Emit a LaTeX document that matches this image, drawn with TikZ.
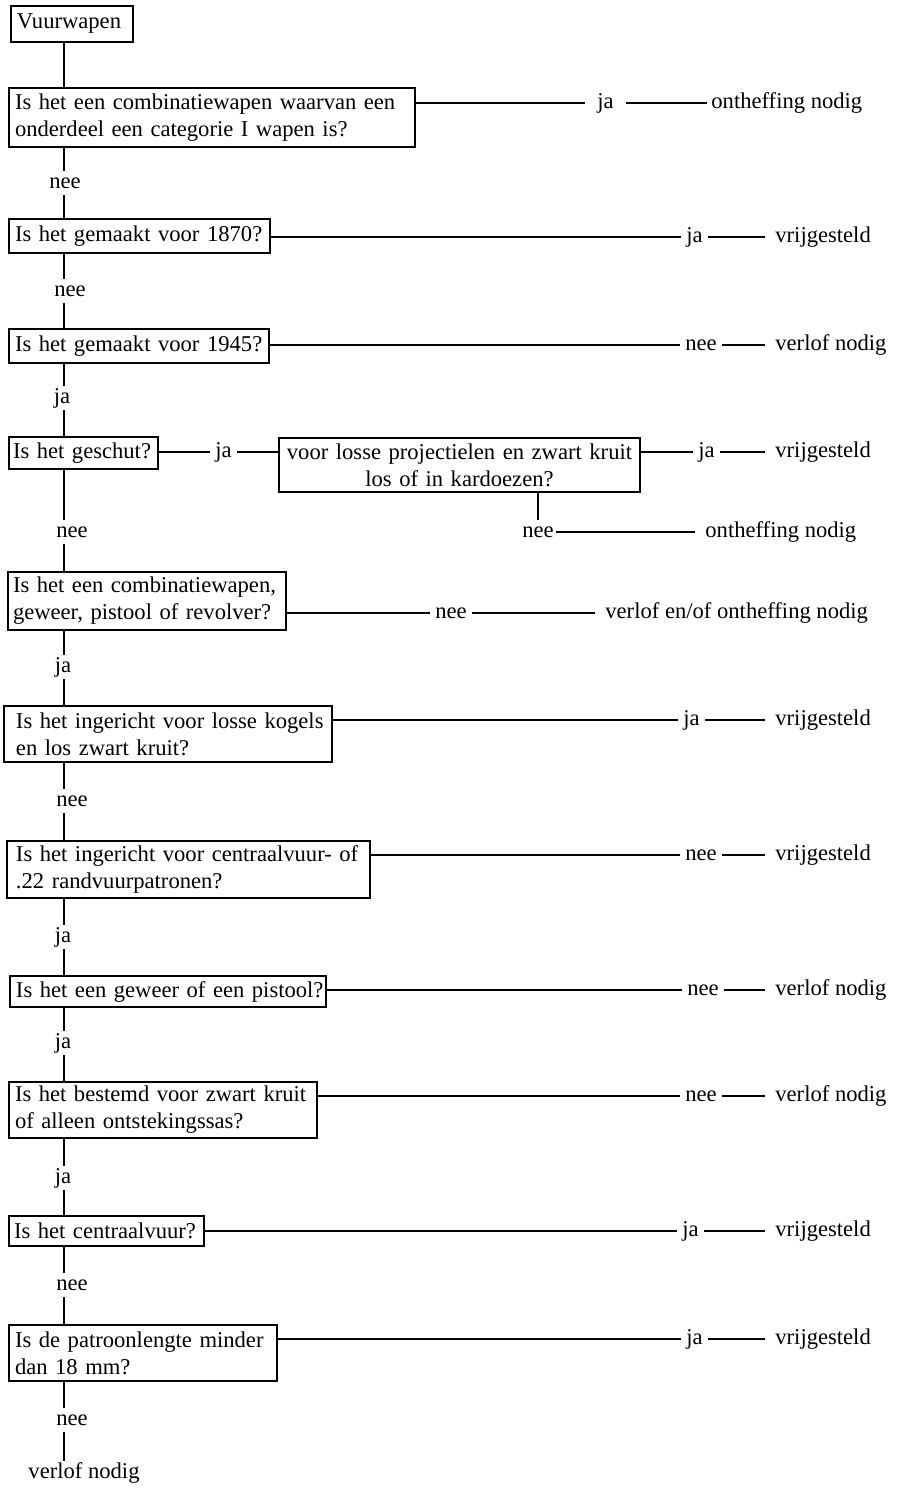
\documentclass[tikz,border=0pt]{standalone}
\usepackage{fontspec}
\setmainfont{Liberation Serif}
\begin{document}
\begin{tikzpicture}[x=0.5pt,y=-0.5pt,
  every node/.style={font=\fontsize{11.3}{13.5}\selectfont},
  line/.style={line width=1pt},
  box/.style={draw, line width=1pt, anchor=north west, align=left, inner xsep=3pt, inner ysep=0pt},
  mid/.style={anchor=west, inner xsep=2.5pt, inner ysep=0pt},
  fin/.style={anchor=west, inner xsep=5pt, inner ysep=0pt},
  vl/.style={inner sep=0pt, minimum height=12pt}]
\useasboundingbox (0,0) rectangle (902,1488);
\coordinate (s) at (64,0);

% question boxes
\node[box, text width=55pt, minimum height=18pt] (b1) at (10,5) {\mbox{Vuurwapen}};
\node[box, text width=197pt, minimum height=29.5pt] (b2) at (8,87) {\mbox{Is het een combinatiewapen waarvan een}\\\mbox{onderdeel een categorie I wapen is?}};
\node[box, text width=124.5pt, minimum height=17pt] (b3) at (8,218) {\mbox{Is het gemaakt voor 1870?}};
\node[box, text width=124pt, minimum height=17pt] (b4) at (8,328) {\mbox{Is het gemaakt voor 1945?}};
\node[box, inner xsep=2pt, text width=70.5pt, minimum height=16pt] (b5) at (8,436) {\mbox{Is het geschut?}};
\node[box, align=center, text width=174.5pt, minimum height=27pt] (b6) at (278,437) {\mbox{voor losse projectielen en zwart kruit}\\\mbox{los of in kardoezen?}};
\node[box, inner xsep=2.5pt, text width=134pt, minimum height=29pt] (b7) at (7,571) {\mbox{Is het een combinatiewapen,}\\\mbox{geweer, pistool of revolver?}};
\node[box, inner xsep=6pt, text width=152pt, minimum height=28pt] (b8) at (3,705) {\mbox{Is het ingericht voor losse kogels}\\\mbox{en los zwart kruit?}};
\node[box, inner xsep=4.5pt, text width=172.5pt, minimum height=28.5pt] (b9) at (6,840) {\mbox{Is het ingericht voor centraalvuur- of}\\\mbox{.22 randvuurpatronen?}};
\node[box, text width=152pt, minimum height=15.5pt] (b10) at (9,975) {\mbox{Is het een geweer of een pistool?}};
\node[box, text width=148pt, minimum height=28pt] (b11) at (8,1081) {\mbox{Is het bestemd voor zwart kruit}\\\mbox{of alleen ontstekingssas?}};
\node[box, inner xsep=2.5pt, text width=92.5pt, minimum height=15pt] (b12) at (8,1215) {\mbox{Is het centraalvuur?}};
\node[box, text width=128pt, minimum height=28pt] (b13) at (8,1324) {\mbox{Is de patroonlengte minder}\\\mbox{dan 18 mm?}};

% spine labels
\node[vl] (v1) at (65,183) {nee};
\node[vl] (v2) at (70,291) {nee};
\node[vl] (v3) at (62,398) {ja};
\node[vl] (v4) at (72,532) {nee};
\node[vl] (v5) at (63,667) {ja};
\node[vl] (v6) at (72,801) {nee};
\node[vl] (v7) at (63,937) {ja};
\node[vl] (v8) at (63,1043) {ja};
\node[vl] (v9) at (63,1178) {ja};
\node[vl] (v10) at (72,1285) {nee};
\node[vl] (v11) at (72,1420) {nee};
\node[vl] (end) at (84,1473) {verlof nodig};

% spine connectors
\draw[line] (b1.south -| s) -- (b2.north -| s);
\draw[line] (b2.south -| s) -- (v1.north -| s);
\draw[line] (v1.south -| s) -- (b3.north -| s);
\draw[line] (b3.south -| s) -- (v2.north -| s);
\draw[line] (v2.south -| s) -- (b4.north -| s);
\draw[line] (b4.south -| s) -- (v3.north -| s);
\draw[line] (v3.south -| s) -- (b5.north -| s);
\draw[line] (b5.south -| s) -- (v4.north -| s);
\draw[line] (v4.south -| s) -- (b7.north -| s);
\draw[line] (b7.south -| s) -- (v5.north -| s);
\draw[line] (v5.south -| s) -- (b8.north -| s);
\draw[line] (b8.south -| s) -- (v6.north -| s);
\draw[line] (v6.south -| s) -- (b9.north -| s);
\draw[line] (b9.south -| s) -- (v7.north -| s);
\draw[line] (v7.south -| s) -- (b10.north -| s);
\draw[line] (b10.south -| s) -- (v8.north -| s);
\draw[line] (v8.south -| s) -- (b11.north -| s);
\draw[line] (b11.south -| s) -- (v9.north -| s);
\draw[line] (v9.south -| s) -- (b12.north -| s);
\draw[line] (b12.south -| s) -- (v10.north -| s);
\draw[line] (v10.south -| s) -- (b13.north -| s);
\draw[line] (b13.south -| s) -- (v11.north -| s);
\draw[line] (v11.south -| s) -- (end.north -| s);

% right-hand branches
\node[mid, inner xsep=6pt] (r2a) at (585,103) {ja};
\node[fin, inner xsep=2pt] (r2b) at (707,103) {ontheffing nodig};
\draw[line] (r2a.west -| b2.east) -- (r2a.west);
\draw[line] (r2a.east) -- (r2b.west);

\node[mid] (r3a) at (681,237) {ja};
\node[fin] (r3b) at (765,237) {vrijgesteld};
\draw[line] (r3a.west -| b3.east) -- (r3a.west);
\draw[line] (r3a.east) -- (r3b.west);

\node[mid] (r4a) at (680,345) {nee};
\node[fin] (r4b) at (765,345) {verlof nodig};
\draw[line] (r4a.west -| b4.east) -- (r4a.west);
\draw[line] (r4a.east) -- (r4b.west);

\node[mid] (r5a) at (210,452) {ja};
\draw[line] (r5a.west -| b5.east) -- (r5a.west);
\draw[line] (r5a.east) -- (r5a.east -| b6.west);
\node[mid] (r5b) at (693,452) {ja};
\node[fin] (r5c) at (765,452) {vrijgesteld};
\draw[line] (r5b.west -| b6.east) -- (r5b.west);
\draw[line] (r5b.east) -- (r5c.west);

\node[vl, inner xsep=1pt] (n6) at (538,532) {nee};
\node[fin] (f6) at (695,532) {ontheffing nodig};
\draw[line] (n6.north |- b6.south) -- (n6.north);
\draw[line] (n6.east) -- (f6.west);

\node[mid] (r7a) at (430,613) {nee};
\node[fin] (r7b) at (595,613) {verlof en/of ontheffing nodig};
\draw[line] (r7a.west -| b7.east) -- (r7a.west);
\draw[line] (r7a.east) -- (r7b.west);

\node[mid] (r8a) at (678,720) {ja};
\node[fin] (r8b) at (765,720) {vrijgesteld};
\draw[line] (r8a.west -| b8.east) -- (r8a.west);
\draw[line] (r8a.east) -- (r8b.west);

\node[mid] (r9a) at (680,855) {nee};
\node[fin] (r9b) at (765,855) {vrijgesteld};
\draw[line] (r9a.west -| b9.east) -- (r9a.west);
\draw[line] (r9a.east) -- (r9b.west);

\node[mid] (r10a) at (682,990) {nee};
\node[fin] (r10b) at (765,990) {verlof nodig};
\draw[line] (r10a.west -| b10.east) -- (r10a.west);
\draw[line] (r10a.east) -- (r10b.west);

\node[mid] (r11a) at (680,1096) {nee};
\node[fin] (r11b) at (765,1096) {verlof nodig};
\draw[line] (r11a.west -| b11.east) -- (r11a.west);
\draw[line] (r11a.east) -- (r11b.west);

\node[mid] (r12a) at (677,1231) {ja};
\node[fin] (r12b) at (765,1231) {vrijgesteld};
\draw[line] (r12a.west -| b12.east) -- (r12a.west);
\draw[line] (r12a.east) -- (r12b.west);

\node[mid] (r13a) at (681,1339) {ja};
\node[fin] (r13b) at (765,1339) {vrijgesteld};
\draw[line] (r13a.west -| b13.east) -- (r13a.west);
\draw[line] (r13a.east) -- (r13b.west);
\end{tikzpicture}
\end{document}
